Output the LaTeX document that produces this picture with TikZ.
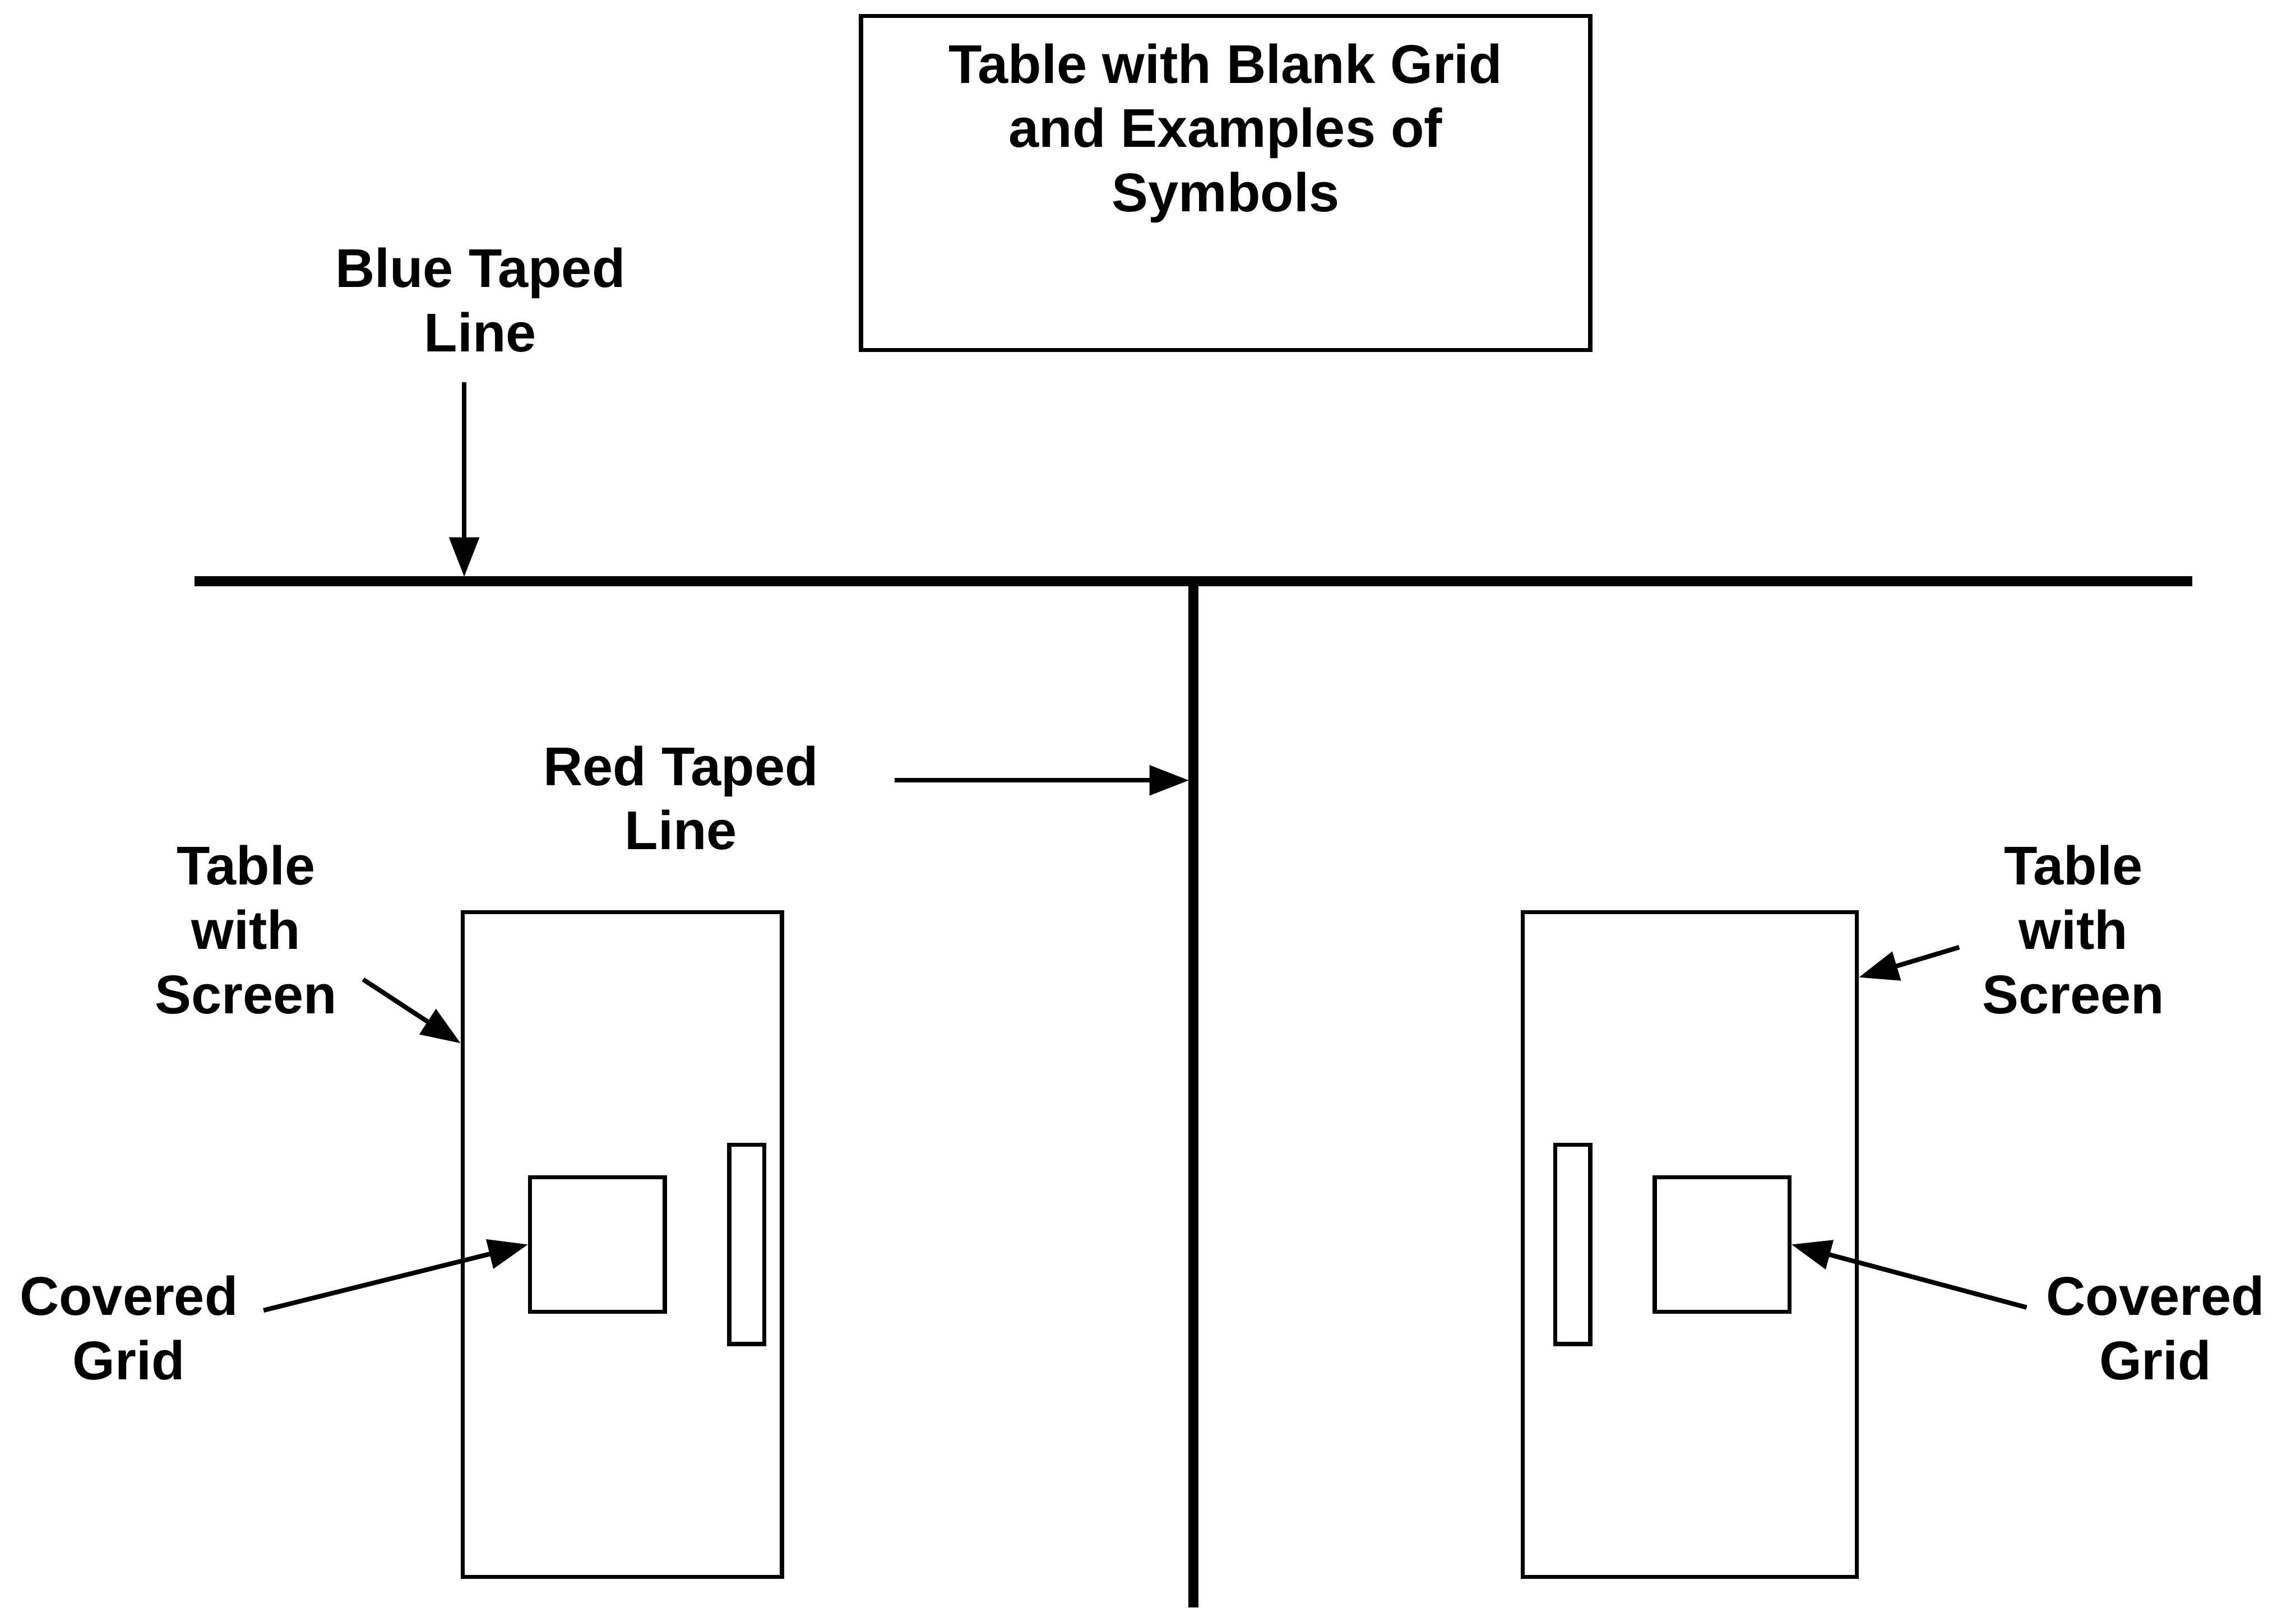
\documentclass[tikz,border=0pt]{standalone}
\usepackage{fontspec}
\setmainfont{Liberation Sans}
\usetikzlibrary{arrows.meta}

\begin{document}
\begin{tikzpicture}[every node/.style={font=\fontsize{10.6}{12.5}\selectfont\bfseries},
	>={Triangle[length=2.7mm, width=2mm]},
	lbl/.style={align=center, inner sep=0pt},
	box/.style={draw, line width=0.8pt, inner sep=0pt},
	tape/.style={line width=2pt},
	pointer/.style={->, line width=0.9pt}]
	\useasboundingbox (0,0) rectangle (15.68,10.98);
	% symbol table at the top
	\node[box, minimum width=4.98cm, minimum height=2.28cm] (symbox) at (8.37,9.73) {};
	\node[lbl] (symtxt) at (8.37,10.07) {Table with Blank Grid\\and Examples of\\Symbols};
	% taped lines
	\coordinate (bl) at (1.33,7.01);
	\coordinate (br) at (14.97,7.01);
	\coordinate (rt) at (8.15,7.01);
	\coordinate (rb) at (8.15,0);
	\draw[tape] (bl) -- (br);
	\draw[tape] (rt) -- (rb);
	% tables with screens
	\node[box, minimum width=2.18cm, minimum height=4.54cm] (ltable) at (4.25,2.48) {};
	\node[box, minimum width=0.92cm, minimum height=0.92cm] (lgrid) at (4.08,2.48) {};
	\node[box, minimum width=0.24cm, minimum height=1.36cm] (lscreen) at (5.10,2.48) {};
	\node[box, minimum width=2.28cm, minimum height=4.54cm] (rtable) at (11.54,2.48) {};
	\node[box, minimum width=0.92cm, minimum height=0.92cm] (rgrid) at (11.76,2.48) {};
	\node[box, minimum width=0.24cm, minimum height=1.36cm] (rscreen) at (10.74,2.48) {};
	% labels
	\node[lbl] (bluelbl) at (3.28,8.93) {Blue Taped\\Line};
	\node[lbl] (redlbl) at (4.65,5.53) {Red Taped\\Line};
	\node[lbl] (ltablelbl) at (1.68,4.63) {Table\\with\\Screen};
	\node[lbl] (lgridlbl) at (0.88,1.91) {Covered\\Grid};
	\node[lbl] (rtablelbl) at (14.16,4.63) {Table\\with\\Screen};
	\node[lbl] (rgridlbl) at (14.72,1.91) {Covered\\Grid};
	% arrows
	\coordinate (bluetail) at (3.17,8.37);
	\coordinate (bluehit) at (3.17,7.04);
	\coordinate (redtail) at (6.11,5.65);
	\coordinate (redhit) at (8.12,5.65);
	\coordinate (ltabletail) at (2.48,4.29);
	\coordinate (lgridtail) at (1.80,2.03);
	\coordinate (rtabletail) at (13.38,4.51);
	\coordinate (rgridtail) at (13.84,2.05);
	\draw[pointer] (bluetail) -- (bluehit);
	\draw[pointer] (redtail) -- (redhit);
	\draw[pointer] (ltabletail) -- ([yshift=-0.91cm]ltable.north west);
	\draw[pointer] (lgridtail) -- (lgrid.west);
	\draw[pointer] (rtabletail) -- ([yshift=-0.46cm]rtable.north east);
	\draw[pointer] (rgridtail) -- (rgrid.east);
\end{tikzpicture}
\end{document}
